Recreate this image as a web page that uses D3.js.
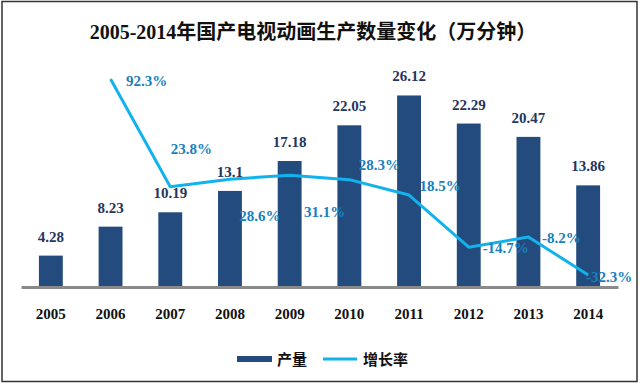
<!DOCTYPE html>
<html>
<head>
<meta charset="utf-8">
<script src="https://cdn.jsdelivr.net/npm/d3@7"></script>
<style>
  body { margin: 0; background: #fff; }
  svg { display: block; }
</style>
</head>
<body>
<div class="chart"></div>
<script>
// chart data
var years = ["2005", "2006", "2007", "2008", "2009", "2010", "2011", "2012", "2013", "2014"];
var output = [4.28, 8.23, 10.19, 13.1, 17.18, 22.05, 26.12, 22.29, 20.47, 13.86];
var growth = [null, 92.3, 23.8, 28.6, 31.1, 28.3, 18.5, -14.7, -8.2, -32.3];
var growthLabels = ["", "92.3%", "23.8%", "28.6%", "31.1%", "28.3%", "18.5%", "-14.7%", "-8.2%", "-32.3%"];

// where each growth label sits relative to its point (as in the original)
var labelDx = [0, 36, 21, 30, 35, 30, 31, 37, 33, 21];
var labelDy = [0, 2, -38, 37, 37, -15, -9, 1, 1, 2];

var svgWidth = 640;
var svgHeight = 385;

var serif = "'Liberation Serif', 'Times New Roman', 'Noto Sans CJK SC', serif";

var svg = d3.select(".chart")
  .append("svg")
  .attr("width", svgWidth)
  .attr("height", svgHeight);

// frame
svg.append("rect")
  .attr("x", 2)
  .attr("y", 1.5)
  .attr("width", 635)
  .attr("height", 380)
  .attr("fill", "#fff")
  .attr("stroke", "#333")
  .attr("stroke-width", 1.5);

// title
svg.append("text")
  .attr("x", 313)
  .attr("y", 32)
  .attr("dominant-baseline", "central")
  .attr("text-anchor", "middle")
  .attr("font-family", serif)
  .attr("font-weight", "bold")
  .attr("font-size", "20px")
  .attr("fill", "#111")
  .text("2005-2014年国产电视动画生产数量变化（万分钟）");

// scales
var x = d3.scaleBand()
  .domain(years)
  .range([21, 618])
  .paddingInner(0.6)
  .paddingOuter(0.3);

var y = d3.scaleLinear()
  .domain([0, 30])
  .range([287, 67]);

var y2 = d3.scaleLinear()
  .domain([-40, 100])
  .range([287, 67]);

// bars
svg.selectAll(".bar")
  .data(output)
  .enter()
  .append("rect")
  .attr("class", "bar")
  .attr("x", (d, i) => x(years[i]))
  .attr("y", d => y(d))
  .attr("width", x.bandwidth())
  .attr("height", d => y(0) - y(d))
  .attr("fill", "#234b7d");

// bar value labels
svg.selectAll(".barLabel")
  .data(output)
  .enter()
  .append("text")
  .attr("class", "barLabel")
  .attr("x", (d, i) => x(years[i]) + x.bandwidth() / 2)
  .attr("y", d => y(d) - 19)
  .attr("dominant-baseline", "central")
  .attr("text-anchor", "middle")
  .attr("font-family", serif)
  .attr("font-weight", "bold")
  .attr("font-size", "15px")
  .attr("fill", "#1f3660")
  .text(d => d);

// x axis
var xAxis = svg.append("g")
  .attr("transform", `translate(0, ${y(0)})`)
  .call(d3.axisBottom(x).tickSize(0).tickPadding(21));

xAxis.select(".domain")
  .attr("stroke", "#8a8a8a")
  .attr("stroke-width", 3);

xAxis.selectAll("text")
  .attr("font-family", serif)
  .attr("font-weight", "bold")
  .attr("font-size", "15px")
  .attr("fill", "#111");

// growth rate line
var pts = growth.map((g, i) => ({ year: years[i], g: g, i: i })).filter(d => d.g !== null);

var line = d3.line()
  .x(d => x(d.year) + x.bandwidth() / 2)
  .y(d => y2(d.g));

svg.append("path")
  .datum(pts)
  .attr("d", line)
  .attr("fill", "none")
  .attr("stroke", "#12b2ec")
  .attr("stroke-width", 3)
  .attr("stroke-linejoin", "round");

svg.selectAll(".pctLabel")
  .data(pts)
  .enter()
  .append("text")
  .attr("class", "pctLabel")
  .attr("x", d => x(d.year) + x.bandwidth() / 2 + labelDx[d.i])
  .attr("y", d => y2(d.g) + labelDy[d.i])
  .attr("dominant-baseline", "central")
  .attr("text-anchor", "middle")
  .attr("font-family", serif)
  .attr("font-weight", "bold")
  .attr("font-size", "15px")
  .attr("fill", "#1a7fbd")
  .text(d => growthLabels[d.i]);

// legend
var legend = svg.append("g");

legend.append("rect")
  .attr("x", 237)
  .attr("y", 356)
  .attr("width", 35)
  .attr("height", 6)
  .attr("fill", "#234b7d");

legend.append("text")
  .attr("x", 277)
  .attr("y", 360)
  .attr("dominant-baseline", "central")
  .attr("font-family", serif)
  .attr("font-weight", "bold")
  .attr("font-size", "15px")
  .attr("fill", "#111")
  .text("产量");

legend.append("line")
  .attr("x1", 323)
  .attr("x2", 357)
  .attr("y1", 359)
  .attr("y2", 359)
  .attr("stroke", "#12b2ec")
  .attr("stroke-width", 3);

legend.append("text")
  .attr("x", 363)
  .attr("y", 360)
  .attr("dominant-baseline", "central")
  .attr("font-family", serif)
  .attr("font-weight", "bold")
  .attr("font-size", "15px")
  .attr("fill", "#111")
  .text("增长率");
</script>
</body>
</html>
